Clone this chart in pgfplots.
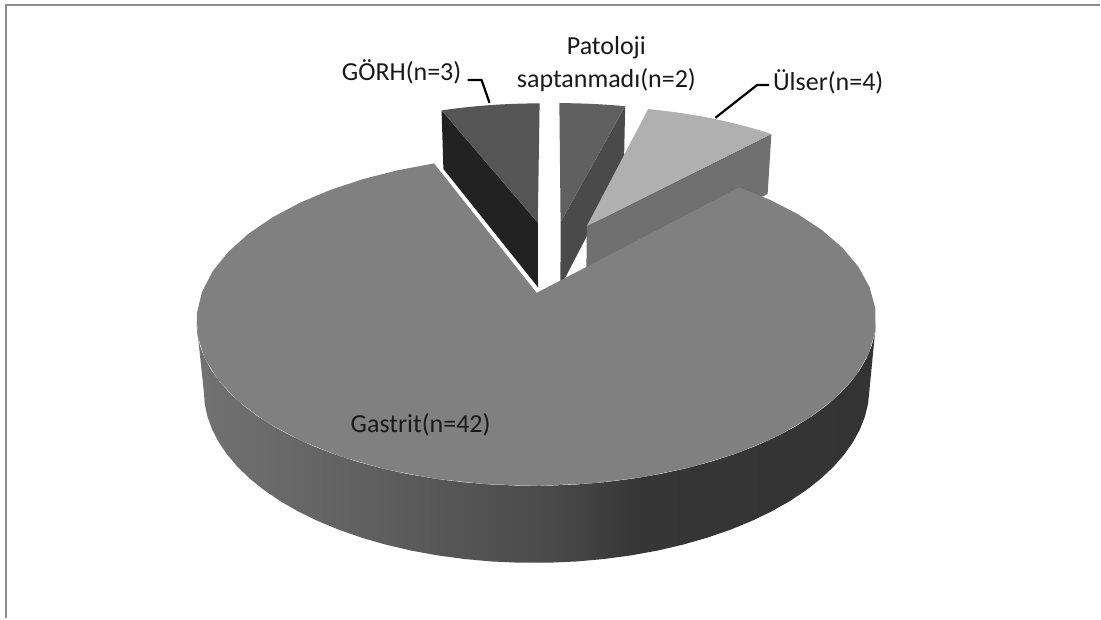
\documentclass[border=0pt]{standalone}
\usepackage{pgfplots}
\pgfplotsset{compat=1.18}
\usepackage{fontspec}
\setmainfont{Carlito}

% data (number of patients)
\def\vPat{2}\def\vUls{4}\def\vGas{42}\def\vGor{3}
\pgfmathsetmacro\tot{\vPat+\vUls+\vGas+\vGor}
\pgfmathsetmacro\aA{90}
\pgfmathsetmacro\aB{\aA-360*\vPat/\tot}
\pgfmathsetmacro\aC{\aB-360*\vUls/\tot}
\pgfmathsetmacro\aD{\aC-360*\vGas/\tot}
\pgfmathsetmacro\aE{\aD-360*\vGor/\tot}
\def\ex{0.24}\def\hh{0.237}
\pgfmathsetmacro\oxP{\ex*cos((\aA+\aB)/2)}\pgfmathsetmacro\oyP{\ex*sin((\aA+\aB)/2)}
\pgfmathsetmacro\oxU{\ex*cos((\aB+\aC)/2)}\pgfmathsetmacro\oyU{\ex*sin((\aB+\aC)/2)}
\pgfmathsetmacro\oxG{\ex*cos((\aC+\aD)/2)}\pgfmathsetmacro\oyG{\ex*sin((\aC+\aD)/2)}
\pgfmathsetmacro\oxR{\ex*cos((\aD+\aE)/2)}\pgfmathsetmacro\oyR{\ex*sin((\aD+\aE)/2)}

\definecolor{gorTop}{HTML}{555555}\definecolor{gorSide}{HTML}{222222}
\definecolor{patTop}{HTML}{606060}\definecolor{patSide}{HTML}{4A4A4A}
\definecolor{ulsTop}{HTML}{B0B0B0}\definecolor{ulsSide}{HTML}{707070}
\definecolor{gasTop}{HTML}{808080}
\definecolor{frameC}{HTML}{8C8C8C}
\definecolor{sA}{HTML}{727272}\definecolor{sB}{HTML}{5C5C5C}
\definecolor{sC}{HTML}{4A4A4A}\definecolor{sD}{HTML}{363636}\definecolor{sE}{HTML}{333333}
\pgfdeclarehorizontalshading{gasside}{100bp}{color(0bp)=(sA); color(25bp)=(sA); color(40bp)=(sB); color(51bp)=(sC); color(57.5bp)=(sD); color(75bp)=(sE); color(100bp)=(sE)}

\newcommand\topface[5]{%
 \addplot[fill=#5, draw=none, domain=0:41, samples=42, variable=\t]
  ({PX((#3)+((\t>0.5)*(\t<40.5))*cos((#1)+((#2)-(#1))*(\t-1)/39), (#4)+((\t>0.5)*(\t<40.5))*sin((#1)+((#2)-(#1))*(\t-1)/39), 0)},
   {PY((#3)+((\t>0.5)*(\t<40.5))*cos((#1)+((#2)-(#1))*(\t-1)/39), (#4)+((\t>0.5)*(\t<40.5))*sin((#1)+((#2)-(#1))*(\t-1)/39), 0)});
}
\newcommand\cutface[4]{%
 \addplot[fill=#4, draw=none, domain=0:3, samples=4, variable=\t]
  ({PX((#2)+((\t>0.5)*(\t<2.5))*cos(#1), (#3)+((\t>0.5)*(\t<2.5))*sin(#1), -\hh*(\t>1.5))},
   {PY((#2)+((\t>0.5)*(\t<2.5))*cos(#1), (#3)+((\t>0.5)*(\t<2.5))*sin(#1), -\hh*(\t>1.5))});
}
\newcommand\rimside[5]{%
 \addplot[#5, draw=none, domain=0:79, samples=80, variable=\t]
  ({PX((#3)+cos((\t<39.5)*((#1)+((#2)-(#1))*\t/39)+(\t>39.5)*((#2)-((#2)-(#1))*(\t-40)/39)), (#4)+sin((\t<39.5)*((#1)+((#2)-(#1))*\t/39)+(\t>39.5)*((#2)-((#2)-(#1))*(\t-40)/39)), -\hh*(\t>39.5))},
   {PY((#3)+cos((\t<39.5)*((#1)+((#2)-(#1))*\t/39)+(\t>39.5)*((#2)-((#2)-(#1))*(\t-40)/39)), (#4)+sin((\t<39.5)*((#1)+((#2)-(#1))*\t/39)+(\t>39.5)*((#2)-((#2)-(#1))*(\t-40)/39)), -\hh*(\t>39.5))});
}

\begin{document}
\begin{tikzpicture}
\begin{axis}[
  width=550.5pt, height=309.5pt, scale only axis,
  xmin=0, xmax=1101, ymin=0, ymax=619,
  hide axis, clip=false,
  declare function={
    PX(\X,\Y,\Z) = 552 + 1771*\X/(5.49 + 0.887*\Y - 0.461*\Z);
    PY(\X,\Y,\Z) = 362.3 + 1771*(0.461*\Y + 0.887*\Z)/(5.49 + 0.887*\Y - 0.461*\Z);
  },
]
\path[fill=white] (axis cs:0,0) rectangle (axis cs:1101,619);
\draw[frameC, line width=1.1pt] (axis cs:6,0) -- (axis cs:6,614) -- (axis cs:1101,614);

% GORH
\cutface{\aD}{\oxR}{\oyR}{gorSide}
\topface{\aE}{\aD}{\oxR}{\oyR}{gorTop}
% Patoloji saptanmadi
\cutface{\aB}{\oxP}{\oyP}{patSide}
\topface{\aB}{\aA}{\oxP}{\oyP}{patTop}
% Ulser
\cutface{\aC}{\oxU}{\oyU}{ulsSide}
\topface{\aC}{\aB}{\oxU}{\oyU}{ulsTop}
% Gastrit
\rimside{-170}{-10}{\oxG}{\oyG}{shade, shading=gasside}
\topface{\aD}{\aC}{\oxG}{\oyG}{gasTop}

% labels
\draw[black, line width=1.1pt] (axis cs:468,539) -- (axis cs:482,539) -- (axis cs:490,516);
\draw[black, line width=1.1pt] (axis cs:716,501) -- (axis cs:758,534) -- (axis cs:770,534);
\node[font=\fontsize{13}{16.5}\selectfont, text=black!90] at (axis cs:402,547) {GÖRH(n=3)};
\node[font=\fontsize{13}{16.5}\selectfont, text=black!90, align=center] at (axis cs:607,555) {Patoloji\\saptanmadı(n=2)};
\node[font=\fontsize{13}{16.5}\selectfont, text=black!90] at (axis cs:829,537) {Ülser(n=4)};
\node[font=\fontsize{13}{16.5}\selectfont, text=black!90] at (axis cs:421,194) {Gastrit(n=42)};
\end{axis}
\end{tikzpicture}
\end{document}
